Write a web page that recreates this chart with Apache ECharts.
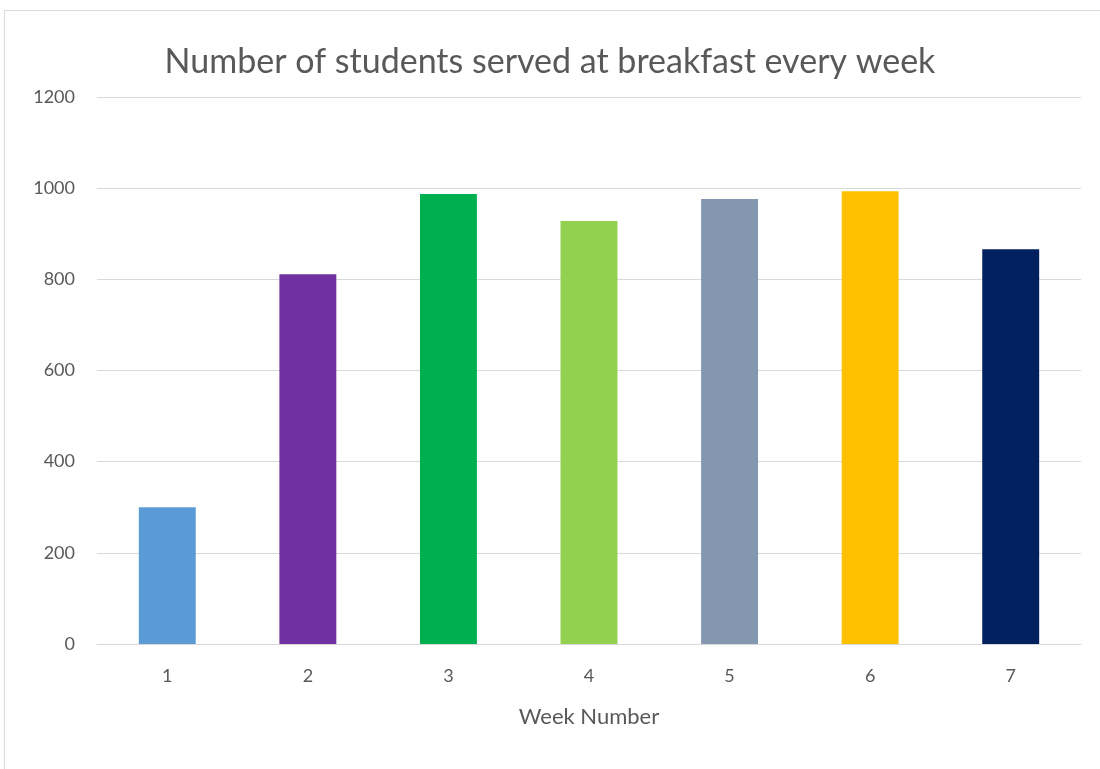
<!DOCTYPE html>
<html>
<head>
<meta charset="utf-8">
<script src="https://cdn.jsdelivr.net/npm/echarts@6/dist/echarts.min.js"></script>
<style>
  html, body { margin: 0; padding: 0; background: #fff; overflow: hidden; }
  #frame { position: absolute; left: 4px; top: 10px; width: 1200px; height: 800px;
           border-left: 1px solid #d9d9d9; border-top: 1px solid #d9d9d9; }
  #chart { position: absolute; left: 0; top: 0; width: 1100px; height: 769px; }
</style>
</head>
<body>
<div id="frame"></div>
<div id="chart"></div>
<script>
var weeks = ["1", "2", "3", "4", "5", "6", "7"];
var studentsServed = [300, 811, 987, 928, 976, 993, 866];
var barColors = ["#5B9BD5", "#7030A0", "#00B050", "#92D050", "#8497B0", "#FFC000", "#002060"];
var yTicks = { min: 0, max: 1200, interval: 200 };

var chart = echarts.init(document.getElementById("chart"));

var option = {
    animation: false,
    title: {
        text: "Number of students served at breakfast every week",
        left: "center",
        top: 40,
        textStyle: {
            fontFamily: "Lato",
            fontSize: 34,
            fontWeight: "normal",
            color: "#595959"
        }
    },
    grid: {
        left: 97,
        right: 19,
        top: 97,
        bottom: 125
    },
    xAxis: {
        type: "category",
        data: weeks,
        name: "Week Number",
        nameLocation: "middle",
        nameGap: 62,
        nameTextStyle: { fontFamily: "Lato", fontSize: 22, color: "#595959" },
        axisLine: { lineStyle: { color: "#d9d9d9", width: 1 } },
        axisTick: { show: false },
        axisLabel: { fontFamily: "Lato", fontSize: 18, color: "#595959", margin: 23 }
    },
    yAxis: {
        type: "value",
        min: yTicks.min,
        max: yTicks.max,
        interval: yTicks.interval,
        axisLine: { show: false },
        axisTick: { show: false },
        axisLabel: {
            fontFamily: "Lato", fontSize: 18, color: "#595959", margin: 22,
            formatter: function (v) { return String(v); }
        },
        splitLine: { lineStyle: { color: "#d9d9d9", width: 1 } }
    },
    series: [{
        type: "bar",
        barWidth: "40.5%",
        data: studentsServed.map(function (v, i) {
            return { value: v, itemStyle: { color: barColors[i] } };
        })
    }]
};

chart.setOption(option);
</script>
</body>
</html>
